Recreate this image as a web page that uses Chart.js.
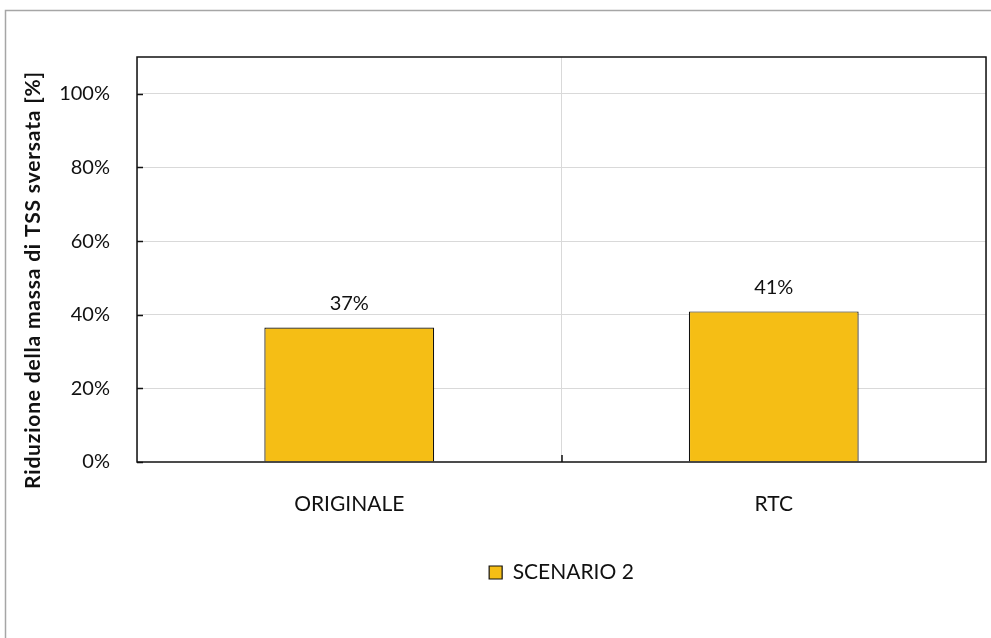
<!DOCTYPE html>
<html lang="it">
<head>
<meta charset="utf-8">
<title>Riduzione della massa di TSS sversata</title>
<script src="https://cdn.jsdelivr.net/npm/chart.js@4/dist/chart.umd.min.js"></script>
<style>
  html, body { margin: 0; padding: 0; background: #ffffff; }
  #wrap { width: 991px; height: 638px; }
</style>
</head>
<body>
<div id="wrap"><canvas id="tssChart" width="991" height="638"></canvas></div>
<script>
'use strict';

// ── DATA ──────────────────────────────────────────────────────
const categories  = ['ORIGINALE', 'RTC'];
const scenarioTwo = [36.5, 40.9];
const seriesName  = 'SCENARIO 2';
const yTicks      = [0, 20, 40, 60, 80, 100];
const yTitle      = 'Riduzione della massa di TSS sversata [%]';

const FONT     = "Lato, 'Noto Sans', sans-serif";
const BAR_FILL = '#F5BE15';
const INK      = '#111111';

// ── PLUGINS ───────────────────────────────────────────────────

// outer frame (gray), plot frame, inside tick marks, axis title, value labels
const decor = {
  id: 'decor',
  beforeDraw(chart) {
    const { ctx } = chart;
    ctx.save();
    ctx.strokeStyle = '#a6a6a6';
    ctx.lineWidth = 1.5;
    ctx.beginPath();
    ctx.moveTo(5.5, 638);
    ctx.lineTo(5.5, 10.5);
    ctx.lineTo(991, 10.5);
    ctx.stroke();
    ctx.restore();
  },
  afterLayout(chart) {
    // Excel centres the legend under the plot area, not under the canvas
    const lg = chart.legend;
    const shift = (chart.chartArea.left + chart.chartArea.right) / 2 - (lg.left + lg.right) / 2;
    lg.left += shift;
    lg.right += shift;
  },
  afterDraw(chart) {
    const { ctx, chartArea: a, scales: { x, y } } = chart;
    ctx.save();

    // plot frame
    ctx.strokeStyle = INK;
    ctx.lineWidth = 1.5;
    ctx.strokeRect(a.left, a.top, a.right - a.left, a.bottom - a.top);

    // inside tick marks
    ctx.beginPath();
    yTicks.forEach(v => {
      const py = Math.round(y.getPixelForValue(v)) + 0.5;
      ctx.moveTo(a.left, py);
      ctx.lineTo(a.left + 6, py);
    });
    for (let i = 0; i < categories.length - 1; i++) {
      const px = Math.round((x.getPixelForTick(i) + x.getPixelForTick(i + 1)) / 2);
      ctx.moveTo(px, a.bottom);
      ctx.lineTo(px, a.bottom - 7);
    }
    ctx.stroke();

    // value labels
    ctx.fillStyle = INK;
    ctx.font = '20px ' + FONT;
    ctx.textAlign = 'center';
    ctx.textBaseline = 'bottom';
    chart.getDatasetMeta(0).data.forEach((bar, i) => {
      ctx.fillText(Math.round(scenarioTwo[i]) + '%', bar.x, bar.y - 14);
    });

    // y axis title
    ctx.font = 'bold 21px ' + FONT;
    ctx.letterSpacing = '0.8px';
    ctx.textBaseline = 'middle';
    ctx.translate(33, 280);
    ctx.rotate(-Math.PI / 2);
    ctx.fillText(yTitle, 0, 0);

    ctx.restore();
  },
};

// ── CHART ─────────────────────────────────────────────────────

Chart.defaults.font.family = FONT;
Chart.defaults.color = INK;

new Chart(document.getElementById('tssChart'), {
  type: 'bar',
  data: {
    labels: categories,
    datasets: [{
      label: seriesName,
      data: scenarioTwo,
      backgroundColor: BAR_FILL,
      borderColor: INK,
      borderWidth: 1.2,
      barPercentage: 0.4,
      categoryPercentage: 1,
    }],
  },
  options: {
    responsive: false,
    animation: false,
    devicePixelRatio: 1,
    layout: { padding: { top: 57, right: 5, left: 0, bottom: 45 } },
    plugins: {
      legend: {
        position: 'bottom',
        labels: {
          boxWidth: 13,
          boxHeight: 13,
          padding: 10,
          color: INK,
          font: { size: 21 },
        },
      },
      tooltip: { enabled: false },
    },
    scales: {
      x: {
        afterFit: s => { s.height = 90; },
        border: { display: false },
        grid: {
          offset: true,
          drawTicks: false,
          color: '#d9d9d9',
          lineWidth: 1,
        },
        ticks: { padding: 30, font: { size: 21 }, color: INK },
      },
      y: {
        min: 0,
        max: 110,
        afterFit: s => { s.width = 137; },
        border: { display: false },
        grid: {
          drawTicks: false,
          color: c => (c.tick.value > 0 && c.tick.value <= 100) ? '#d9d9d9' : 'rgba(0,0,0,0)',
          lineWidth: 1,
        },
        ticks: {
          stepSize: 20,
          padding: 27,
          font: { size: 20 },
          color: INK,
          callback: v => (yTicks.includes(v) ? v + '%' : ''),
        },
      },
    },
  },
  plugins: [decor],
});
</script>
</body>
</html>
